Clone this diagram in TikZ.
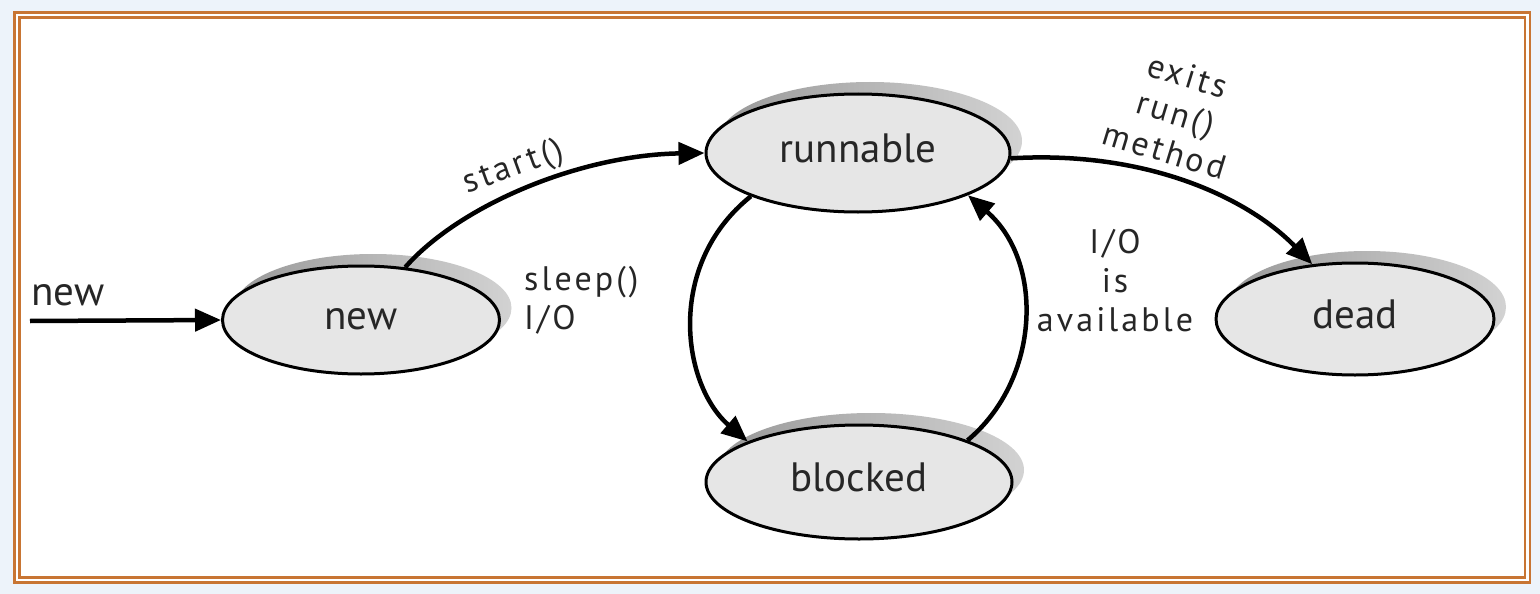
\documentclass[tikz,border=0pt]{standalone}
\usepackage{fontspec}
\setmainfont{PT Sans}
\newfontfamily\lblfont[LetterSpace=9]{PT Sans}
\usetikzlibrary{shapes.geometric,arrows.meta,shadows}
\definecolor{bgblue}{HTML}{EDF3FA}
\definecolor{framecol}{HTML}{C87533}
\definecolor{nodefill}{HTML}{E6E6E6}
\definecolor{txt}{HTML}{262626}
\tikzset{
  state/.style={ellipse, draw=black, line width=3pt, fill=nodefill,
    inner sep=0pt, text height=29pt, text depth=10pt,
    font=\fontsize{41}{48}\selectfont, text=txt,
    general shadow={shadow xshift=12pt, shadow yshift=12pt,
      left color=gray!80!white, right color=gray!35!white}},
  trans/.style={line width=4.5pt, -{Triangle[length=26pt,width=22pt]}},
  lbl/.style={font=\lblfont\fontsize{34}{39}\selectfont, text=txt, inner sep=0pt},
  framelin/.style={draw=framecol, line width=2.6pt}
}
\begin{document}
\begin{tikzpicture}[x=1pt,y=-1pt]
  \useasboundingbox (0,0) rectangle (1540,594);
  \fill[bgblue] (0,0) rectangle (1540,594);
  \fill[white] (14.5,12.5) rectangle (1529.8,582.5);
  \draw[framelin] (14.5,12.5) rectangle (1529.8,582.5);
  \draw[framelin] (19.5,17.5) rectangle (1524.8,577.5);

  \node[state, minimum width=277pt, minimum height=108pt] (new) at (361,320) {new};
  \node[state, minimum width=304pt, minimum height=118pt] (run) at (858,153) {runnable};
  \node[state, minimum width=306pt, minimum height=114pt] (blk) at (859,482) {blocked};
  \node[state, minimum width=278pt, minimum height=112pt] (dead) at (1355,319) {dead};

  \coordinate (src) at (30,321);
  \node[font=\fontsize{41}{48}\selectfont, text=txt, inner sep=0pt, anchor=base west] (newlbl) at (31,305) {new};

  \draw[trans] (src) -- (new.west);
  \draw[trans] (new.50) .. controls (460,205) and (580,155) .. (run.west);
  \draw[trans] (run.-2) .. controls (1150,150) and (1250,200) .. (dead.128);
  \draw[trans] (run.-158) .. controls (665,265) and (682,385) .. (blk.160);
  \draw[trans] (blk.21) .. controls (1040,380) and (1045,262) .. (run.-21);

  \node[lbl, rotate=20] (lstart) at (514,168) {start()};
  \node[lbl, align=left, anchor=west] (lsleep) at (524,300) {sleep()\\I/O};
  \node[lbl, align=center] (lio) at (1115,281) {I/O\\is\\available};
  \node[lbl, align=center, rotate=-17] (lexit) at (1176,113) {exits\\run()\\method};
\end{tikzpicture}
\end{document}
